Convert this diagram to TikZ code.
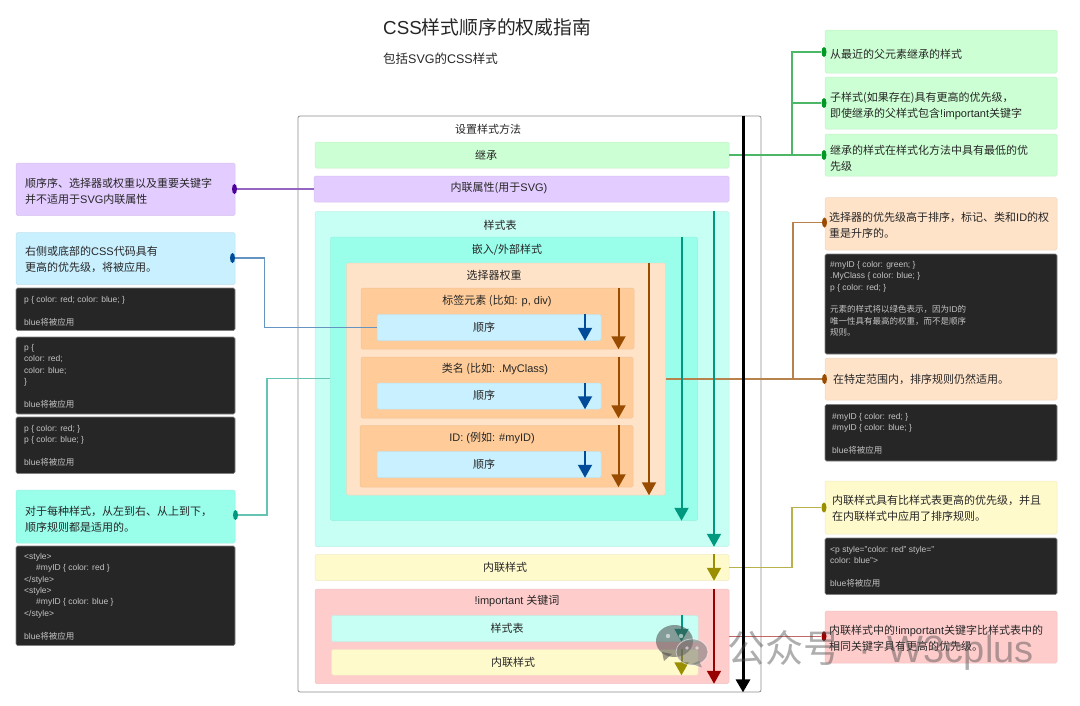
\documentclass[tikz,border=0pt]{standalone}
\usepackage{fontspec}
\setmainfont{Liberation Sans}
\newfontfamily\cjk{Noto Sans CJK SC}
\usetikzlibrary{arrows.meta, shapes.geometric}

\newcommand{\zh}[1]{{\cjk #1}}

\definecolor{greenfill}{HTML}{CCFFD3}
\definecolor{purplefill}{HTML}{E3CCFF}
\definecolor{bluefill}{HTML}{C9F0FF}
\definecolor{mintfill}{HTML}{C7FFF4}
\definecolor{tealfill}{HTML}{99FFEB}
\definecolor{peachfill}{HTML}{FFE3C9}
\definecolor{orangefill}{HTML}{FFCC99}
\definecolor{yellowfill}{HTML}{FFFACC}
\definecolor{pinkfill}{HTML}{FFCCCC}
\definecolor{codefill}{HTML}{262626}
\definecolor{codetext}{HTML}{C4C4C4}
\definecolor{greenline}{HTML}{009926}
\definecolor{purpleline}{HTML}{4D0099}
\definecolor{blueline}{HTML}{004C99}
\definecolor{tealline}{HTML}{009980}
\definecolor{brownline}{HTML}{994C00}
\definecolor{oliveline}{HTML}{998F00}
\definecolor{redline}{HTML}{990000}

\begin{document}
\begin{tikzpicture}[x=1pt, y=-1pt]
    % Define styles
    \tikzstyle{panel} = [rectangle, draw=#1!88!gray, fill=#1, rounded corners=1.5pt, line width=0.5pt, inner sep=0pt]
    \tikzstyle{code} = [rectangle, draw=gray, fill=codefill, rounded corners=1.5pt, line width=0.6pt, inner sep=0pt]
    \tikzstyle{title} = [font=\fontsize{11}{14}\selectfont, text=black!85, inner sep=0pt]
    \tikzstyle{note} = [font=\fontsize{11}{16}\selectfont, text=black!85, anchor=west, align=left, inner sep=0pt]
    \tikzstyle{codetxt} = [font=\fontsize{8.5}{11.4}\selectfont, text=codetext, anchor=north west, align=left, inner sep=0pt]
    \tikzstyle{dot} = [ellipse, fill=#1, minimum width=5pt, minimum height=10pt, inner sep=0pt]
    \tikzstyle{link} = [draw=#1, line width=1.1pt]
    \tikzstyle{flow} = [draw=#1, line width=2pt, -{Triangle[width=14pt, length=13pt]}]

    \useasboundingbox (0,0) rectangle (1080,705);

    % Place nodes - heading
    \node [inner sep=0pt, anchor=west, font=\fontsize{18.8}{22}\selectfont, text=black!85] (heading) at (383,27) {CSS\zh{样式顺序的权威指南}};
    \node [inner sep=0pt, anchor=west, font=\fontsize{12.5}{14}\selectfont, text=black!85] (subheading) at (383,59) {\zh{包括}SVG\zh{的}CSS\zh{样式}};

    % Place nodes - outer frame
    \node [rectangle, draw=black!45, fill=white, rounded corners=2pt, line width=0.8pt, minimum width=463, minimum height=576] (frame) at (529.5,404) {};
    \node [title] (frametitle) at (488,129) {\cjk 设置样式方法};

    % Place nodes - layers
    \node [panel=greenfill, minimum width=414, minimum height=26] (inherit) at (522,155) {};
    \node [panel=purplefill, minimum width=415, minimum height=26] (attr) at (521.5,189) {};
    \node [panel=mintfill, minimum width=414, minimum height=335] (sheet) at (522,379) {};
    \node [panel=tealfill, minimum width=367, minimum height=283.5] (embed) at (514,378.75) {};
    \node [panel=peachfill, minimum width=319, minimum height=232] (weight) at (506,379) {};
    \node [panel=orangefill, minimum width=273, minimum height=61] (tag) at (497.5,318.5) {};
    \node [panel=orangefill, minimum width=272, minimum height=61] (class) at (497,387.5) {};
    \node [panel=orangefill, minimum width=273, minimum height=61.5] (id) at (496.5,456.25) {};
    \node [panel=bluefill, minimum width=224, minimum height=26] (tagorder) at (489,327.5) {};
    \node [panel=bluefill, minimum width=224, minimum height=26] (classorder) at (489,396) {};
    \node [panel=bluefill, minimum width=224, minimum height=26] (idorder) at (489,464.5) {};
    \node [panel=yellowfill, minimum width=414, minimum height=26] (inline) at (522,567.5) {};
    \node [panel=pinkfill, minimum width=414, minimum height=94.5] (important) at (522,636.25) {};
    \node [panel=mintfill, minimum width=366.5, minimum height=26] (impsheet) at (514.75,628.5) {};
    \node [panel=yellowfill, minimum width=366.5, minimum height=25.5] (impinline) at (514.75,662.25) {};

    % Place nodes - layer titles
    \node [title] (inherittitle) at (486,155) {\cjk 继承};
    \node [title] (attrtitle) at (499,188) {\zh{内联属性(用于}SVG)};
    \node [title] (sheettitle) at (500,225) {\cjk 样式表};
    \node [title] (embedtitle) at (507,250) {\zh{嵌入/外部样式}};
    \node [title] (weighttitle) at (494,275) {\cjk 选择器权重};
    \node [title] (tagtitle) at (497,301) {\zh{标签元素 (比如}: p, div)};
    \node [title] (classtitle) at (495,369) {\zh{类名 (比如}: .MyClass)};
    \node [title] (idtitle) at (492,438) {ID: (\zh{例如}: \#myID)};
    \node [title] (tagordertitle) at (484,327) {\cjk 顺序};
    \node [title] (classordertitle) at (484,395) {\cjk 顺序};
    \node [title] (idordertitle) at (484,464) {\cjk 顺序};
    \node [title] (inlinetitle) at (505,567) {\cjk 内联样式};
    \node [title] (importanttitle) at (517,601) {!important \zh{关键词}};
    \node [title] (impsheettitle) at (507,628) {\cjk 样式表};
    \node [title] (impinlinetitle) at (513,662) {\cjk 内联样式};

    % Place nodes - left column
    \node [panel=purplefill, minimum width=219, minimum height=52.5] (attrnote) at (125.5,189.25) {};
    \node [note] (attrtext) at (25,191) {\zh{顺序序、选择器或权重以及重要关键字}\\\zh{并不适用于}SVG\zh{内联属性}};
    \node [panel=bluefill, minimum width=219, minimum height=52] (ordernote) at (125.5,258.5) {};
    \node [note] (ordertext) at (25,259) {\zh{右侧或底部的}CSS\zh{代码具有}\\\zh{更高的优先级，将被应用。}};
    \node [code, minimum width=219, minimum height=42.5] (codea) at (125.5,309.25) {};
    \node [codetxt] (codeatext) at (24,296) {p \{ color: red; color: blue; \}\\[11.4pt]blue\zh{将被应用}};
    \node [code, minimum width=219, minimum height=77] (codeb) at (125.5,375.5) {};
    \node [codetxt] (codebtext) at (24,344) {p \{\\color: red;\\color: blue;\\\}\\[11.4pt]blue\zh{将被应用}};
    \node [code, minimum width=219, minimum height=56.5] (codec) at (125.5,445.25) {};
    \node [codetxt] (codectext) at (24,425) {p \{ color: red; \}\\p \{ color: blue; \}\\[11.4pt]blue\zh{将被应用}};
    \node [panel=tealfill, minimum width=219, minimum height=53] (scopenote) at (125.5,516.5) {};
    \node [note] (scopetext) at (25,519) {\zh{对于每种样式，从左到右、从上到下，}\\\zh{顺序规则都是适用的。}};
    \node [code, minimum width=219, minimum height=99.5] (coded) at (125.5,595.75) {};
    \node [codetxt] (codedtext) at (24,553) {<style>\\\hspace*{12pt}\#myID \{ color: red \}\\</style>\\<style>\\\hspace*{12pt}\#myID \{ color: blue \}\\</style>\\[11.4pt]blue\zh{将被应用}};

    % Place nodes - right column
    \node [panel=greenfill, minimum width=232, minimum height=43] (nearest) at (941,51.5) {};
    \node [note] (nearesttext) at (830,54) {\cjk 从最近的父元素继承的样式};
    \node [panel=greenfill, minimum width=232, minimum height=52] (child) at (941,103) {};
    \node [note] (childtext) at (830,106) {\zh{子样式(如果存在)具有更高的优先级，}\\\zh{即使继承的父样式包含}!important\zh{关键字}};
    \node [panel=greenfill, minimum width=232, minimum height=42] (lowest) at (941,155) {};
    \node [note] (lowesttext) at (830,158.5) {\zh{继承的样式在样式化方法中具有最低的优}\\\zh{先级}};
    \node [panel=peachfill, minimum width=232, minimum height=52.5] (selector) at (941,223.75) {};
    \node [note] (selectortext) at (829,225) {\zh{选择器的优先级高于排序，标记、类和}ID\zh{的权}\\\zh{重是升序的。}};
    \node [code, minimum width=232, minimum height=100] (codee) at (941,304) {};
    \node [codetxt] (codeetext) at (830,261) {\#myID \{ color: green; \}\\.MyClass \{ color: blue; \}\\p \{ color: red; \}\\[11.4pt]\zh{元素的样式将以绿色表示，因为}ID\zh{的}\\\zh{唯一性具有最高的权重，而不是顺序}\\\zh{规则。}};
    \node [panel=peachfill, minimum width=232, minimum height=42] (scope) at (941,379) {};
    \node [note] (scopeinfo) at (833,379.5) {\cjk 在特定范围内，排序规则仍然适用。};
    \node [code, minimum width=232, minimum height=56.5] (codef) at (941,432.75) {};
    \node [codetxt] (codeftext) at (832,413) {\#myID \{ color: red; \}\\\#myID \{ color: blue; \}\\[11.4pt]blue\zh{将被应用}};
    \node [panel=yellowfill, minimum width=232, minimum height=53] (inlinenote) at (941,507.5) {};
    \node [note] (inlinetext) at (832,508.5) {\zh{内联样式具有比样式表更高的优先级，并且}\\\zh{在内联样式中应用了排序规则。}};
    \node [code, minimum width=232, minimum height=56.5] (codeg) at (941,566.25) {};
    \node [codetxt] (codegtext) at (830,546) {<p style="color: red" style="\\color: blue">\\[11.4pt]blue\zh{将被应用}};
    \node [panel=pinkfill, minimum width=232, minimum height=52] (keyword) at (941,637) {};
    \node [note] (keywordtext) at (829,638) {\zh{内联样式中的}!important\zh{关键字比样式表中的}\\\zh{相同关键字具有更高的优先级。}};

    % Place nodes - dots
    \node [dot=purpleline] (attrdot) at (234.5,189) {};
    \node [dot=blueline] (orderdot) at (232.5,258) {};
    \node [dot=tealline] (scopedot) at (235.5,515) {};
    \node [dot=greenline] (nearestdot) at (824,52) {};
    \node [dot=greenline] (childdot) at (824,103) {};
    \node [dot=greenline] (lowestdot) at (824,155) {};
    \node [dot=brownline] (selectordot) at (824.5,222.5) {};
    \node [dot=brownline] (scopeinfodot) at (824.5,379) {};
    \node [dot=oliveline] (inlinedot) at (824,507.5) {};
    \node [dot=redline] (keyworddot) at (824,636.25) {};
    \coordinate (orderbend) at (264.5,290);
    \coordinate (scopebend) at (267,450);
    \coordinate (greenbend) at (792,100);
    \coordinate (brownbend) at (793,300);
    \coordinate (olivebend) at (792,540);

    % Draw connectors
    \path [link=purpleline!60] (attrdot) -- (attr);
    \path [link=blueline!60] (orderdot) -| (orderbend) |- (tagorder);
    \path [link=tealline!60] (scopedot) -| (scopebend) |- (embed);
    \path [link=greenline!70] (inherit) -- (lowestdot);
    \path [link=greenline!70] (inherit) -| (greenbend) |- (nearestdot);
    \path [link=greenline!70] (greenbend) |- (childdot);
    \path [link=brownline!70] (weight) -- (scopeinfodot);
    \path [link=brownline!70] (weight) -| (brownbend) |- (selectordot);
    \path [link=oliveline!70] (inline) -| (olivebend) |- (inlinedot);
    \path [link=redline!60] (important) -- (keyworddot);

    % Draw flows
    \path [flow=black, line width=3pt] (743,0 |- frame.north) -- (743,0 |- frame.south);
    \path [flow=tealline] (714,0 |- sheet.north) -- (714,0 |- sheet.south);
    \path [flow=tealline] (681.5,0 |- embed.north) -- (681.5,0 |- embed.south);
    \path [flow=brownline] (649,0 |- weight.north) -- (649,0 |- weight.south);
    \path [flow=brownline] (618.5,0 |- tag.north) -- (618.5,0 |- tag.south);
    \path [flow=brownline] (618.5,0 |- class.north) -- (618.5,0 |- class.south);
    \path [flow=brownline] (618.5,0 |- id.north) -- (618.5,0 |- id.south);
    \path [flow=blueline] (585,0 |- tagorder.north) -- (585,0 |- tagorder.south);
    \path [flow=blueline] (585,0 |- classorder.north) -- (585,0 |- classorder.south);
    \path [flow=blueline] (585,0 |- idorder.north) -- (585,0 |- idorder.south);
    \path [flow=oliveline] (714,0 |- inline.north) -- (714,0 |- inline.south);
    \path [flow=redline] (714,0 |- important.north) -- (714,0 |- important.south);
    \path [flow=tealline] (681.5,0 |- impsheet.north) -- (681.5,0 |- impsheet.south);
    \path [flow=oliveline] (681.5,0 |- impinline.north) -- (681.5,0 |- impinline.south);

    % Watermark
    \begin{scope}[opacity=0.55]
        \fill [black!70] (674.5,641) ellipse (18.5 and 16);
        \fill [black!70] (662,652) -- (664,661) -- (672,654) -- cycle;
        \fill [black!55, draw=white, line width=0.8pt] (692,652) ellipse (16 and 13);
        \fill [black!55] (699,661) -- (702,667.5) -- (692,664) -- cycle;
        \fill [white] (668,636) circle (2.2);
        \fill [white] (681,636) circle (2.2);
        \fill [white] (687,648) circle (1.8);
        \fill [white] (697,648) circle (1.8);
    \end{scope}
    \node [inner sep=0pt, anchor=west, opacity=0.45, text=black!70, font=\fontsize{38}{40}\selectfont] (watermark) at (727,650) {\zh{公众号} \hspace{6.5pt}·\hspace{6.5pt} W3cplus};
\end{tikzpicture}
\end{document}
